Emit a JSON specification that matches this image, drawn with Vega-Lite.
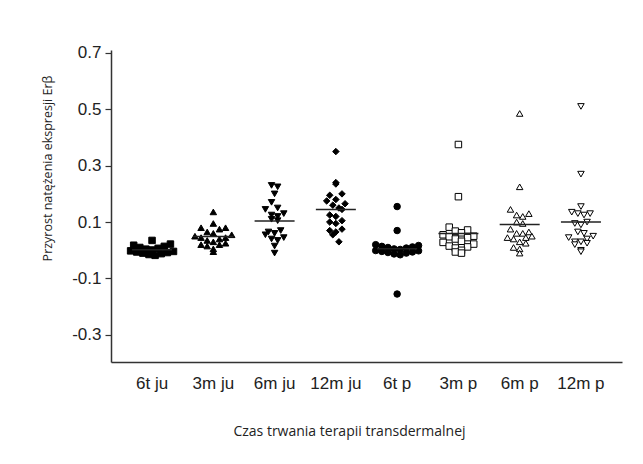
{
  "$schema": "https://vega.github.io/schema/vega-lite/v6.json",
  "autosize": "none",
  "width": 511,
  "height": 312,
  "padding": {"left": 111, "top": 50, "right": 21, "bottom": 102},
  "background": "white",
  "config": {"view": {"stroke": null}},
  "data": {"values": [
    {"g": "6t ju", "v": 0.035}, {"g": "6t ju", "v": 0.022}, {"g": "6t ju", "v": 0.018}, {"g": "6t ju", "v": 0.014},
    {"g": "6t ju", "v": 0.010}, {"g": "6t ju", "v": 0.007}, {"g": "6t ju", "v": 0.004}, {"g": "6t ju", "v": 0.001},
    {"g": "6t ju", "v": -0.002}, {"g": "6t ju", "v": -0.004}, {"g": "6t ju", "v": -0.006}, {"g": "6t ju", "v": -0.008},
    {"g": "6t ju", "v": -0.010}, {"g": "6t ju", "v": -0.012}, {"g": "6t ju", "v": -0.015}, {"g": "6t ju", "v": -0.018},

    {"g": "3m ju", "v": 0.136}, {"g": "3m ju", "v": 0.095}, {"g": "3m ju", "v": 0.080}, {"g": "3m ju", "v": 0.080},
    {"g": "3m ju", "v": 0.075}, {"g": "3m ju", "v": 0.065}, {"g": "3m ju", "v": 0.060}, {"g": "3m ju", "v": 0.055},
    {"g": "3m ju", "v": 0.050}, {"g": "3m ju", "v": 0.045}, {"g": "3m ju", "v": 0.045}, {"g": "3m ju", "v": 0.040},
    {"g": "3m ju", "v": 0.035}, {"g": "3m ju", "v": 0.030}, {"g": "3m ju", "v": 0.025}, {"g": "3m ju", "v": 0.020},
    {"g": "3m ju", "v": 0.020}, {"g": "3m ju", "v": 0.015}, {"g": "3m ju", "v": 0.005}, {"g": "3m ju", "v": -0.005},

    {"g": "6m ju", "v": 0.230}, {"g": "6m ju", "v": 0.225}, {"g": "6m ju", "v": 0.200}, {"g": "6m ju", "v": 0.170},
    {"g": "6m ju", "v": 0.150}, {"g": "6m ju", "v": 0.145}, {"g": "6m ju", "v": 0.130}, {"g": "6m ju", "v": 0.125},
    {"g": "6m ju", "v": 0.120}, {"g": "6m ju", "v": 0.110}, {"g": "6m ju", "v": 0.105}, {"g": "6m ju", "v": 0.070},
    {"g": "6m ju", "v": 0.065}, {"g": "6m ju", "v": 0.060}, {"g": "6m ju", "v": 0.055}, {"g": "6m ju", "v": 0.045},
    {"g": "6m ju", "v": 0.040}, {"g": "6m ju", "v": 0.035}, {"g": "6m ju", "v": 0.015}, {"g": "6m ju", "v": -0.010},

    {"g": "12m ju", "v": 0.350}, {"g": "12m ju", "v": 0.240}, {"g": "12m ju", "v": 0.235}, {"g": "12m ju", "v": 0.200},
    {"g": "12m ju", "v": 0.195}, {"g": "12m ju", "v": 0.180}, {"g": "12m ju", "v": 0.175}, {"g": "12m ju", "v": 0.165},
    {"g": "12m ju", "v": 0.160}, {"g": "12m ju", "v": 0.150}, {"g": "12m ju", "v": 0.145}, {"g": "12m ju", "v": 0.125},
    {"g": "12m ju", "v": 0.120}, {"g": "12m ju", "v": 0.105}, {"g": "12m ju", "v": 0.100}, {"g": "12m ju", "v": 0.095},
    {"g": "12m ju", "v": 0.075}, {"g": "12m ju", "v": 0.070}, {"g": "12m ju", "v": 0.065}, {"g": "12m ju", "v": 0.055},
    {"g": "12m ju", "v": 0.030},

    {"g": "6t p", "v": 0.155}, {"g": "6t p", "v": 0.070}, {"g": "6t p", "v": 0.020}, {"g": "6t p", "v": 0.017},
    {"g": "6t p", "v": 0.014}, {"g": "6t p", "v": 0.012}, {"g": "6t p", "v": 0.010}, {"g": "6t p", "v": 0.008},
    {"g": "6t p", "v": 0.005}, {"g": "6t p", "v": 0.003}, {"g": "6t p", "v": -0.001}, {"g": "6t p", "v": -0.002},
    {"g": "6t p", "v": -0.004}, {"g": "6t p", "v": -0.006}, {"g": "6t p", "v": -0.008}, {"g": "6t p", "v": -0.010},
    {"g": "6t p", "v": -0.013}, {"g": "6t p", "v": -0.016}, {"g": "6t p", "v": -0.155},

    {"g": "3m p", "v": 0.375}, {"g": "3m p", "v": 0.190}, {"g": "3m p", "v": 0.082}, {"g": "3m p", "v": 0.072},
    {"g": "3m p", "v": 0.068}, {"g": "3m p", "v": 0.062}, {"g": "3m p", "v": 0.055}, {"g": "3m p", "v": 0.050},
    {"g": "3m p", "v": 0.048}, {"g": "3m p", "v": 0.045}, {"g": "3m p", "v": 0.040}, {"g": "3m p", "v": 0.032},
    {"g": "3m p", "v": 0.028}, {"g": "3m p", "v": 0.022}, {"g": "3m p", "v": 0.015}, {"g": "3m p", "v": 0.012},
    {"g": "3m p", "v": 0.008}, {"g": "3m p", "v": 0.000}, {"g": "3m p", "v": -0.006}, {"g": "3m p", "v": -0.010},

    {"g": "6m p", "v": 0.485}, {"g": "6m p", "v": 0.225}, {"g": "6m p", "v": 0.145}, {"g": "6m p", "v": 0.130},
    {"g": "6m p", "v": 0.125}, {"g": "6m p", "v": 0.120}, {"g": "6m p", "v": 0.100}, {"g": "6m p", "v": 0.095},
    {"g": "6m p", "v": 0.075}, {"g": "6m p", "v": 0.065}, {"g": "6m p", "v": 0.060}, {"g": "6m p", "v": 0.060},
    {"g": "6m p", "v": 0.050}, {"g": "6m p", "v": 0.045}, {"g": "6m p", "v": 0.045}, {"g": "6m p", "v": 0.040},
    {"g": "6m p", "v": 0.030}, {"g": "6m p", "v": 0.025}, {"g": "6m p", "v": 0.010}, {"g": "6m p", "v": 0.005},
    {"g": "6m p", "v": -0.010},

    {"g": "12m p", "v": 0.510}, {"g": "12m p", "v": 0.270}, {"g": "12m p", "v": 0.155}, {"g": "12m p", "v": 0.135},
    {"g": "12m p", "v": 0.130}, {"g": "12m p", "v": 0.130}, {"g": "12m p", "v": 0.125}, {"g": "12m p", "v": 0.100},
    {"g": "12m p", "v": 0.095}, {"g": "12m p", "v": 0.090}, {"g": "12m p", "v": 0.065}, {"g": "12m p", "v": 0.060},
    {"g": "12m p", "v": 0.050}, {"g": "12m p", "v": 0.045}, {"g": "12m p", "v": 0.040}, {"g": "12m p", "v": 0.030},
    {"g": "12m p", "v": 0.030}, {"g": "12m p", "v": 0.025}, {"g": "12m p", "v": 0.020}, {"g": "12m p", "v": 0.000},
    {"g": "12m p", "v": -0.005}
  ]},
  "encoding": {
    "x": {
      "field": "g", "type": "nominal", "sort": null,
      "scale": {"type": "band", "paddingInner": 0, "paddingOuter": 0.17},
      "axis": {
        "title": "Czas trwania terapii transdermalnej",
        "labelAngle": 0, "ticks": false, "tickSize": 0,
        "labelFont": "Liberation Sans", "labelFontSize": 17, "labelColor": "#222",
        "labelPadding": 13,
        "titleFont": "Open Sans", "titleFontSize": 14, "titleFontWeight": "normal", "titleColor": "#222",
        "titlePadding": 33, "titleX": 238,
        "domainColor": "#333", "domainWidth": 1.5
      }
    }
  },
  "layer": [
    {
      "transform": [
        {"calculate": "floor(datum.v / 0.03)", "as": "vb"},
        {"window": [{"op": "row_number", "as": "r"}], "groupby": ["g", "vb"], "sort": [{"field": "v"}]},
        {"joinaggregate": [{"op": "count", "as": "n"}], "groupby": ["g", "vb"]},
        {"calculate": "(datum.r % 2 == 1 ? (datum.r - 1) / 2 : -datum.r / 2) + (datum.n % 2 == 0 ? 0.5 : 0)", "as": "dx"}
      ],
      "mark": {"type": "point", "filled": true, "stroke": "black", "strokeWidth": 1, "size": 42, "opacity": 1},
      "encoding": {
        "xOffset": {"field": "dx", "type": "quantitative", "scale": {"domain": [-5, 5]}},
        "y": {
          "field": "v", "type": "quantitative",
          "scale": {"domain": [-0.396, 0.71], "nice": false, "zero": false},
          "axis": {
            "title": "Przyrost natężenia ekspresji Erβ",
            "values": [-0.3, -0.1, 0.1, 0.3, 0.5, 0.7],
            "format": ".1f",
            "labelExpr": "replace(datum.label, '−', '-')",
            "grid": false,
            "tickSize": 6, "tickColor": "#333", "tickWidth": 1.2,
            "labelFont": "Liberation Sans", "labelFontSize": 17, "labelColor": "#222",
            "labelPadding": 4,
            "titleFont": "Open Sans", "titleFontSize": 12.5, "titleFontWeight": "normal", "titleColor": "#222",
            "titlePadding": 17, "titleY": 118,
            "domainColor": "#333", "domainWidth": 1.5
          }
        },
        "shape": {
          "field": "g", "type": "nominal", "legend": null,
          "scale": {
            "domain": ["6t ju", "3m ju", "6m ju", "12m ju", "6t p", "3m p", "6m p", "12m p"],
            "range": ["square", "triangle-up", "triangle-down", "diamond", "circle", "square", "triangle-up", "triangle-down"]
          }
        },
        "fill": {
          "field": "g", "type": "nominal", "legend": null,
          "scale": {
            "domain": ["6t ju", "3m ju", "6m ju", "12m ju", "6t p", "3m p", "6m p", "12m p"],
            "range": ["black", "black", "black", "black", "black", "white", "white", "white"]
          }
        }
      }
    },
    {
      "mark": {"type": "tick", "color": "#222", "thickness": 1.5, "size": 40},
      "encoding": {
        "y": {"aggregate": "mean", "field": "v", "type": "quantitative"}
      }
    }
  ]
}
